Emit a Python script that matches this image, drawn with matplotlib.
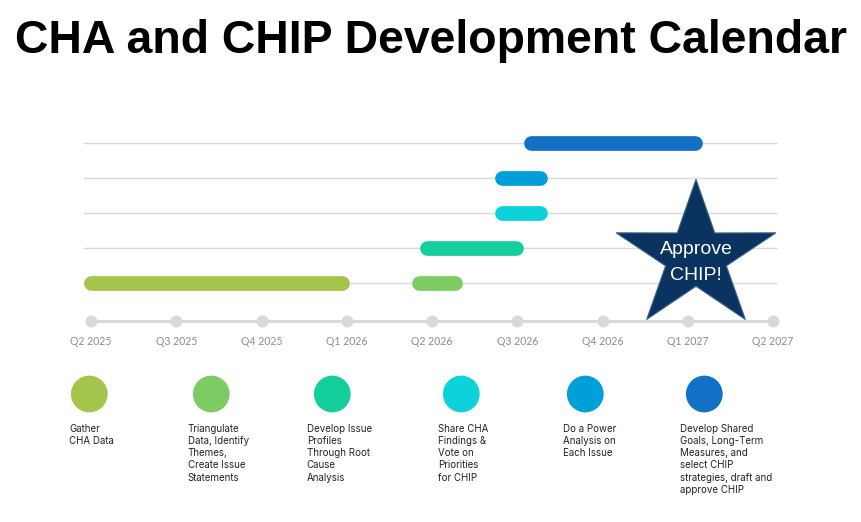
import numpy as np
import matplotlib
matplotlib.use("Agg")
import matplotlib.pyplot as plt
from matplotlib.patches import Polygon

# quarters on the time axis (0 = Q2 2025)
quarters = ["Q2 2025", "Q3 2025", "Q4 2025", "Q1 2026", "Q2 2026",
            "Q3 2026", "Q4 2026", "Q1 2027", "Q2 2027"]

# tasks: start / end in quarters, row above the axis
task_names = ["Gather\nCHA Data",
              "Triangulate\nData, Identify\nThemes,\nCreate Issue\nStatements",
              "Develop Issue\nProfiles\nThrough Root\nCause\nAnalysis",
              "Share CHA\nFindings &\nVote on\nPriorities\nfor CHIP",
              "Do a Power\nAnalysis on\nEach Issue",
              "Develop Shared\nGoals, Long-Term\nMeasures, and\nselect CHIP\nstrategies, draft and\napprove CHIP"]
task_start = [0.0, 3.85, 3.94, 4.82, 4.82, 5.16]
task_end = [2.95, 4.27, 4.98, 5.27, 5.27, 7.09]
task_row = [1, 1, 2, 3, 4, 5]
task_colors = ["#A5C44B", "#7CCB63", "#14CF9B", "#0DD2DB", "#009FD9", "#1270C5"]

milestone = "Approve\nCHIP!"

W, H = 861, 522
fig = plt.figure(figsize=(W / 100, H / 100), dpi=100)

# timeline axes: quarter 0 at px 91, quarter 8 at px 773; rows between px 321 and 143
ax = fig.add_axes([91 / W, (H - 321) / H, (773 - 91) / W, (321 - 143) / H])
ax.set_xlim(0, 8)
axis_y = -0.075
ax.set_ylim(axis_y, 5)
ax.axis("off")

grey = "#d9d9d9"
ax.hlines([1, 2, 3, 4, 5], -0.094, 8.047, colors=grey, lw=1, clip_on=False, zorder=1)
ax.plot([0, 8], [axis_y, axis_y], color=grey, lw=2.2, clip_on=False, zorder=2)
ax.scatter(range(len(quarters)), [axis_y] * len(quarters), s=75, color=grey,
           clip_on=False, zorder=3, linewidths=0)
for i, q in enumerate(quarters):
    ax.annotate(q, (i, axis_y), xytext=(0, -15), textcoords="offset points",
                ha="center", va="center", fontsize=7.6, color="#8c8c8c",
                family="Lato", annotation_clip=False)

for s, e, r, c in zip(task_start, task_end, task_row, task_colors):
    ax.plot([s, e], [r, r], color=c, lw=10.6, solid_capstyle="round",
            clip_on=False, zorder=4)

# overlay in pixel units for the key and the star
kx = fig.add_axes([0, 0, 1, 1])
kx.set_xlim(0, W)
kx.set_ylim(H, 0)
kx.axis("off")
kx.patch.set_alpha(0)

key_x = [89.3, 211.3, 332.3, 461.3, 585.3, 704.3]
text_x = [69.3, 187.7, 306.7, 437.7, 563.3, 680]
kx.scatter(key_x, [394] * len(key_x), s=700, color=task_colors, linewidths=0)
for tx, name in zip(text_x, task_names):
    kx.text(tx, 424, name, ha="left", va="top", fontsize=7.0, color="#222222",
            family="Inter", linespacing=1.27)

# star
cx, cy, rx, ry = 696, 256.8, 84, 77.5
ang = np.arange(10) * np.pi / 5
rad = np.where(np.arange(10) % 2 == 0, 1.0, 0.38)
pts = np.column_stack([cx + rx * rad * np.sin(ang), cy - ry * rad * np.cos(ang)])
kx.add_patch(Polygon(pts, closed=True, facecolor="#0B335F", edgecolor="#3a6592",
                     lw=0.8, zorder=5))
kx.text(cx, 262.5, milestone, ha="center", va="center", fontsize=14, color="white",
        family="Liberation Sans", linespacing=1.68, zorder=6)

fig.text(0.501, 1 - 52.7 / H, "CHA and CHIP Development Calendar", ha="center",
         va="baseline", fontsize=33.4, fontweight="bold", family="Liberation Sans")

fig.savefig("out.png", dpi=100)
